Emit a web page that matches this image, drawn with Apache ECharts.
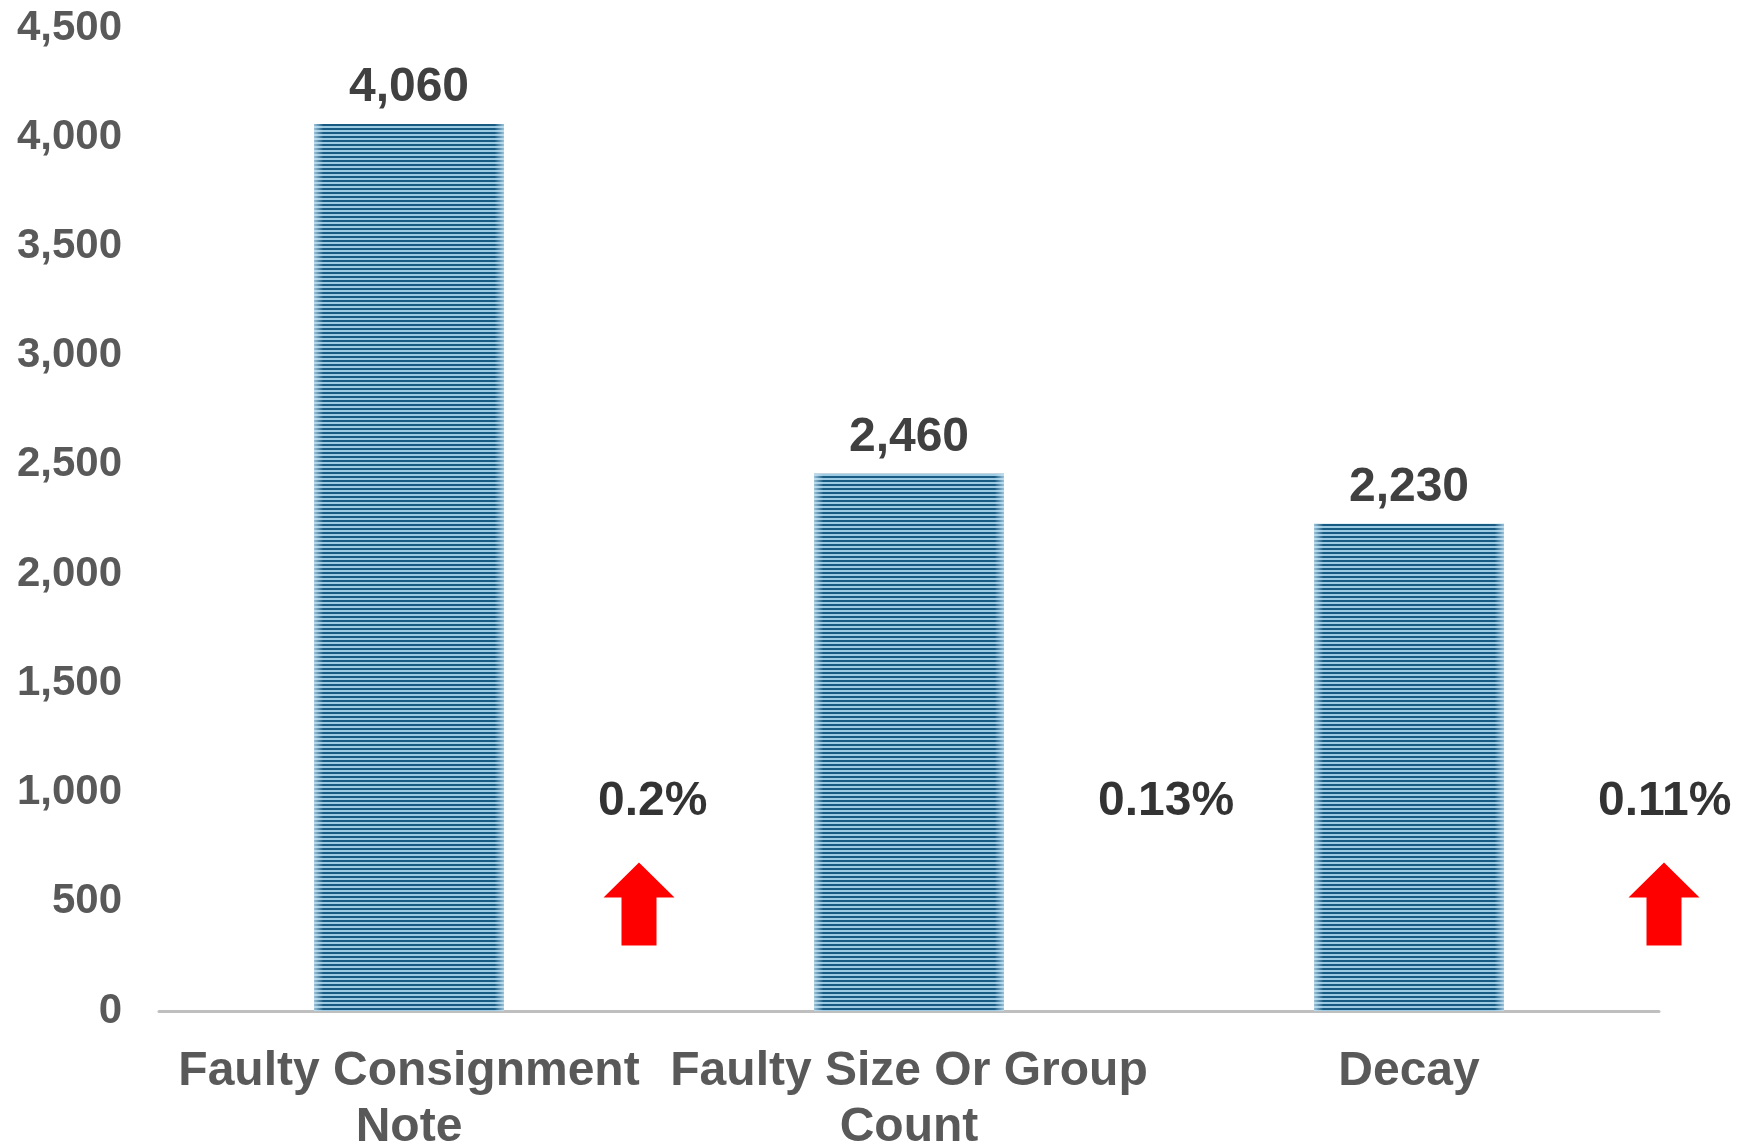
<!DOCTYPE html>
<html>
<head>
<meta charset="utf-8">
<script src="https://cdn.jsdelivr.net/npm/echarts@6/dist/echarts.min.js"></script>
<style>
  html, body { margin: 0; padding: 0; background: #fff; }
  #chart { width: 1740px; height: 1144px; }
</style>
</head>
<body>
<div id="chart"></div>
<script>
// chart data
var categories = ['Faulty Consignment\nNote', 'Faulty Size Or Group\nCount', 'Decay'];
var counts = [4060, 2460, 2230];
var changeLabels = ['0.2%', '0.13%', '0.11%'];
var changeLevel = 960;          // value level of the % labels
var arrowX = [0.46, 2.51];      // up arrows next to first and last bar
var arrowLevel = 490;
var yTicks = [0, 500, 1000, 1500, 2000, 2500, 3000, 3500, 4000, 4500];

var FONT = '"Liberation Sans", Arial, sans-serif';

// striped fill for the bars
function stripes() {
  var c = document.createElement('canvas');
  c.width = 4; c.height = 4;
  var ctx = c.getContext('2d');
  ctx.fillStyle = '#9ccbe3';
  ctx.fillRect(0, 0, 4, 4);
  ctx.fillStyle = '#175a82';
  ctx.fillRect(0, 0, 4, 2);
  return c;
}

var chart = echarts.init(document.getElementById('chart'));

var option = {
  animation: false,
  grid: { left: 159, right: 81, top: 28, bottom: 133, outerBoundsMode: 'none' },
  xAxis: [
    {
      type: 'category',
      data: categories,
      axisTick: { show: false },
      axisLine: { lineStyle: { color: '#bfbfbf', width: 3 } },
      axisLabel: {
        interval: 0,
        margin: 33,
        color: '#595959',
        fontFamily: FONT,
        fontWeight: 'bold',
        fontSize: 48,
        lineHeight: 56
      }
    },
    {
      // hidden axis so the side markers can sit between categories
      type: 'value',
      min: -0.5,
      max: 2.5,
      show: false
    }
  ],
  yAxis: {
    type: 'value',
    min: yTicks[0],
    max: yTicks[yTicks.length - 1],
    interval: 500,
    splitLine: { show: false },
    axisLine: { show: false },
    axisTick: { show: false },
    axisLabel: {
      margin: 37,
      color: '#595959',
      fontFamily: FONT,
      fontWeight: 'bold',
      fontSize: 42,
      formatter: function (v) { return v.toLocaleString('en-US'); }
    }
  },
  series: [
    {
      name: 'Count',
      type: 'bar',
      barWidth: '38%',
      data: counts,
      itemStyle: {
        color: { image: stripes(), repeat: 'repeat' }
      },
      label: {
        show: true,
        position: 'top',
        distance: 12,
        color: '#404040',
        fontFamily: FONT,
        fontWeight: 'bold',
        fontSize: 48,
        formatter: function (p) { return p.value.toLocaleString('en-US'); }
      }
    },
    {
      // soft light edges on each bar
      name: 'edge',
      type: 'bar',
      barWidth: '38%',
      barGap: '-100%',
      data: counts,
      silent: true,
      itemStyle: {
        color: new echarts.graphic.LinearGradient(0, 0, 1, 0, [
          { offset: 0, color: 'rgba(200,228,244,0.75)' },
          { offset: 0.05, color: 'rgba(200,228,244,0)' },
          { offset: 0.95, color: 'rgba(200,228,244,0)' },
          { offset: 1, color: 'rgba(200,228,244,0.75)' }
        ])
      }
    },
    {
      name: 'change',
      type: 'scatter',
      xAxisIndex: 1,
      symbolSize: 0,
      clip: false,
      data: changeLabels.map(function (t, i) { return { value: [i + 0.378, changeLevel], name: t }; }),
      label: {
        show: true,
        position: 'inside',
        align: 'left',
        color: '#000',
        fontFamily: FONT,
        fontWeight: 'bold',
        fontSize: 48,
        formatter: function (p) { return p.name; }
      }
    },
    {
      name: 'arrow',
      type: 'scatter',
      xAxisIndex: 1,
      clip: false,
      symbol: 'path://M35.5,0 L71,35 L53,35 L53,83 L18,83 L18,35 L0,35 Z',
      symbolSize: [71, 83],
      itemStyle: { color: '#ff0000', opacity: 1 },
      data: arrowX.map(function (x) { return [x, arrowLevel]; })
    }
  ]
};

chart.setOption(option);
</script>
</body>
</html>
